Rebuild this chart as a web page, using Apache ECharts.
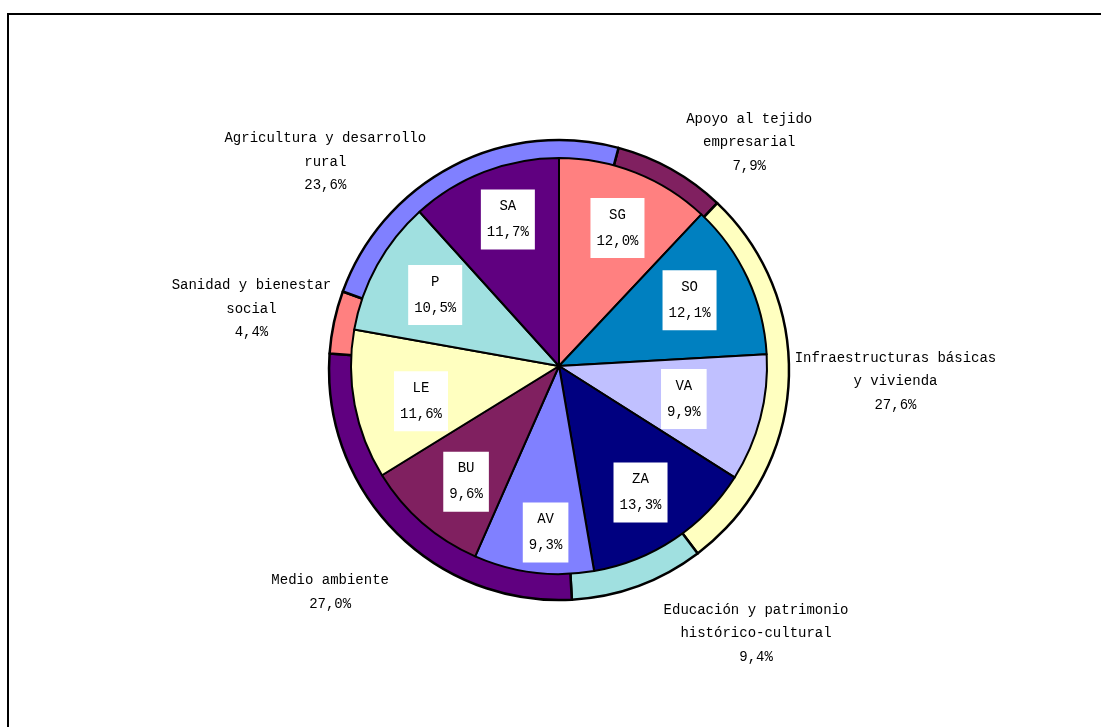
<!DOCTYPE html>
<html>
<head>
<meta charset="utf-8">
<script src="https://cdn.jsdelivr.net/npm/echarts@6/dist/echarts.min.js"></script>
<style>
  html, body { margin: 0; padding: 0; background: #fff; }
  #chart { width: 1101px; height: 727px; }
</style>
</head>
<body>
<div id="chart"></div>
<script>
// Inner pie: share of each province (%)
const provinces = ['SG', 'SO', 'VA', 'ZA', 'AV', 'BU', 'LE', 'P', 'SA'];
const provinceShare = [12.0, 12.1, 9.9, 13.3, 9.3, 9.6, 11.6, 10.5, 11.7];
const provinceColors = ['#FF8080', '#0080C0', '#C0C0FF', '#000080', '#8080FF', '#802060', '#FFFFC0', '#A0E0E0', '#600080'];

// Outer ring: share of each area of action (%)
const areas = [
  'Apoyo al tejido\nempresarial',
  'Infraestructuras básicas\ny vivienda',
  'Educación y patrimonio\nhistórico-cultural',
  'Medio ambiente',
  'Sanidad y bienestar\nsocial',
  'Agricultura y desarrollo\nrural'
];
const areaShare = [7.9, 27.6, 9.4, 27.0, 4.4, 23.6];
const areaColors = ['#802060', '#FFFFC0', '#A0E0E0', '#600080', '#FF8080', '#8080FF'];

// Geometry and label placement settings
const FONT = '"Liberation Mono", "DejaVu Sans Mono", monospace';
const pieCenter = [559, 366];
const pieRadius = 208;
const ringCenter = [559, 370];
const ringRadius = [200, 230];
const ringStart = 75;          // degrees, counter-clockwise from 3 o'clock
const ringLabelGap = 10;
const ringLabelNudge = [[10, -18], [-4, -2], [22, 38], [1, 54], [7, -11], [-22, 5]];
const provinceLabelNudge = [[3, 2], [-6, -2], [-21, -5], [-2, 1], [5, 17], [6, 2], [10, 7], [8, 2], [3, -6]];

const pct = v => v.toFixed(1).replace('.', ',') + '%';

const provinceData = provinces.map((name, i) => ({
  name, value: provinceShare[i], itemStyle: { color: provinceColors[i] }
}));
const areaData = areas.map((name, i) => ({
  name, value: areaShare[i], itemStyle: { color: areaColors[i] }
}));

// Mid-angle of each ring sector (radians, clockwise from 12 o'clock)
const areaTotal = areaShare.reduce((a, b) => a + b, 0);
const areaMid = [];
{
  let acc = 90 - ringStart;
  areaShare.forEach(v => {
    const span = v / areaTotal * 360;
    areaMid.push((acc + span / 2) * Math.PI / 180);
    acc += span;
  });
}

const chart = echarts.init(document.getElementById('chart'));
chart.setOption({
  backgroundColor: '#fff',
  animation: false,
  graphic: [{
    type: 'rect',
    z: -10,
    shape: { x: 8, y: 14, width: 1300, height: 900 },
    style: { fill: 'none', stroke: '#000', lineWidth: 2 }
  }],
  series: [
    {
      type: 'pie',
      name: 'areas',
      center: ringCenter,
      radius: ringRadius,
      startAngle: ringStart,
      clockwise: true,
      avoidLabelOverlap: false,
      silent: true,
      data: areaData,
      itemStyle: { borderColor: '#000', borderWidth: 2.5 },
      label: {
        show: true,
        position: 'outside',
        fontFamily: FONT,
        fontSize: 14,
        lineHeight: 23.5,
        color: '#000',
        formatter: p => p.name + '\n' + pct(p.value)
      },
      labelLine: { show: false },
      labelLayout: params => {
        const i = params.dataIndex;
        const a = areaMid[i];
        const dx = Math.sin(a), dy = -Math.cos(a);
        const r = ringRadius[1] + ringLabelGap;
        const ax = ringCenter[0] + r * dx;
        const ay = ringCenter[1] + r * dy;
        const w = params.labelRect.width;
        return {
          x: ax + (dx < 0 ? -1 : 1) * w / 2 + ringLabelNudge[i][0],
          y: ay + ringLabelNudge[i][1],
          align: 'center',
          verticalAlign: 'middle'
        };
      }
    },
    {
      type: 'pie',
      name: 'provinces',
      center: pieCenter,
      radius: [0, pieRadius],
      startAngle: 90,
      clockwise: true,
      silent: true,
      data: provinceData,
      itemStyle: { borderColor: '#000', borderWidth: 2 },
      label: { show: false },
      labelLine: { show: false }
    },
    {
      // label carrier for the provinces, labels sit at ~0.71 of the pie radius
      type: 'pie',
      name: 'provinceLabels',
      center: pieCenter,
      radius: [0, pieRadius * 1.42],
      startAngle: 90,
      clockwise: true,
      silent: true,
      data: provinceData.map(d => ({ name: d.name, value: d.value, itemStyle: { color: 'rgba(0,0,0,0)' } })),
      itemStyle: { borderWidth: 0 },
      label: {
        show: true,
        position: 'inside',
        fontFamily: FONT,
        fontSize: 14,
        lineHeight: 26,
        color: '#000',
        backgroundColor: '#fff',
        padding: [5, 6, 3, 6],
        align: 'center',
        formatter: p => p.name + '\n' + pct(p.value)
      },
      labelLine: { show: false },
      labelLayout: params => ({
        dx: provinceLabelNudge[params.dataIndex][0],
        dy: provinceLabelNudge[params.dataIndex][1]
      })
    }
  ]
});
</script>
</body>
</html>
